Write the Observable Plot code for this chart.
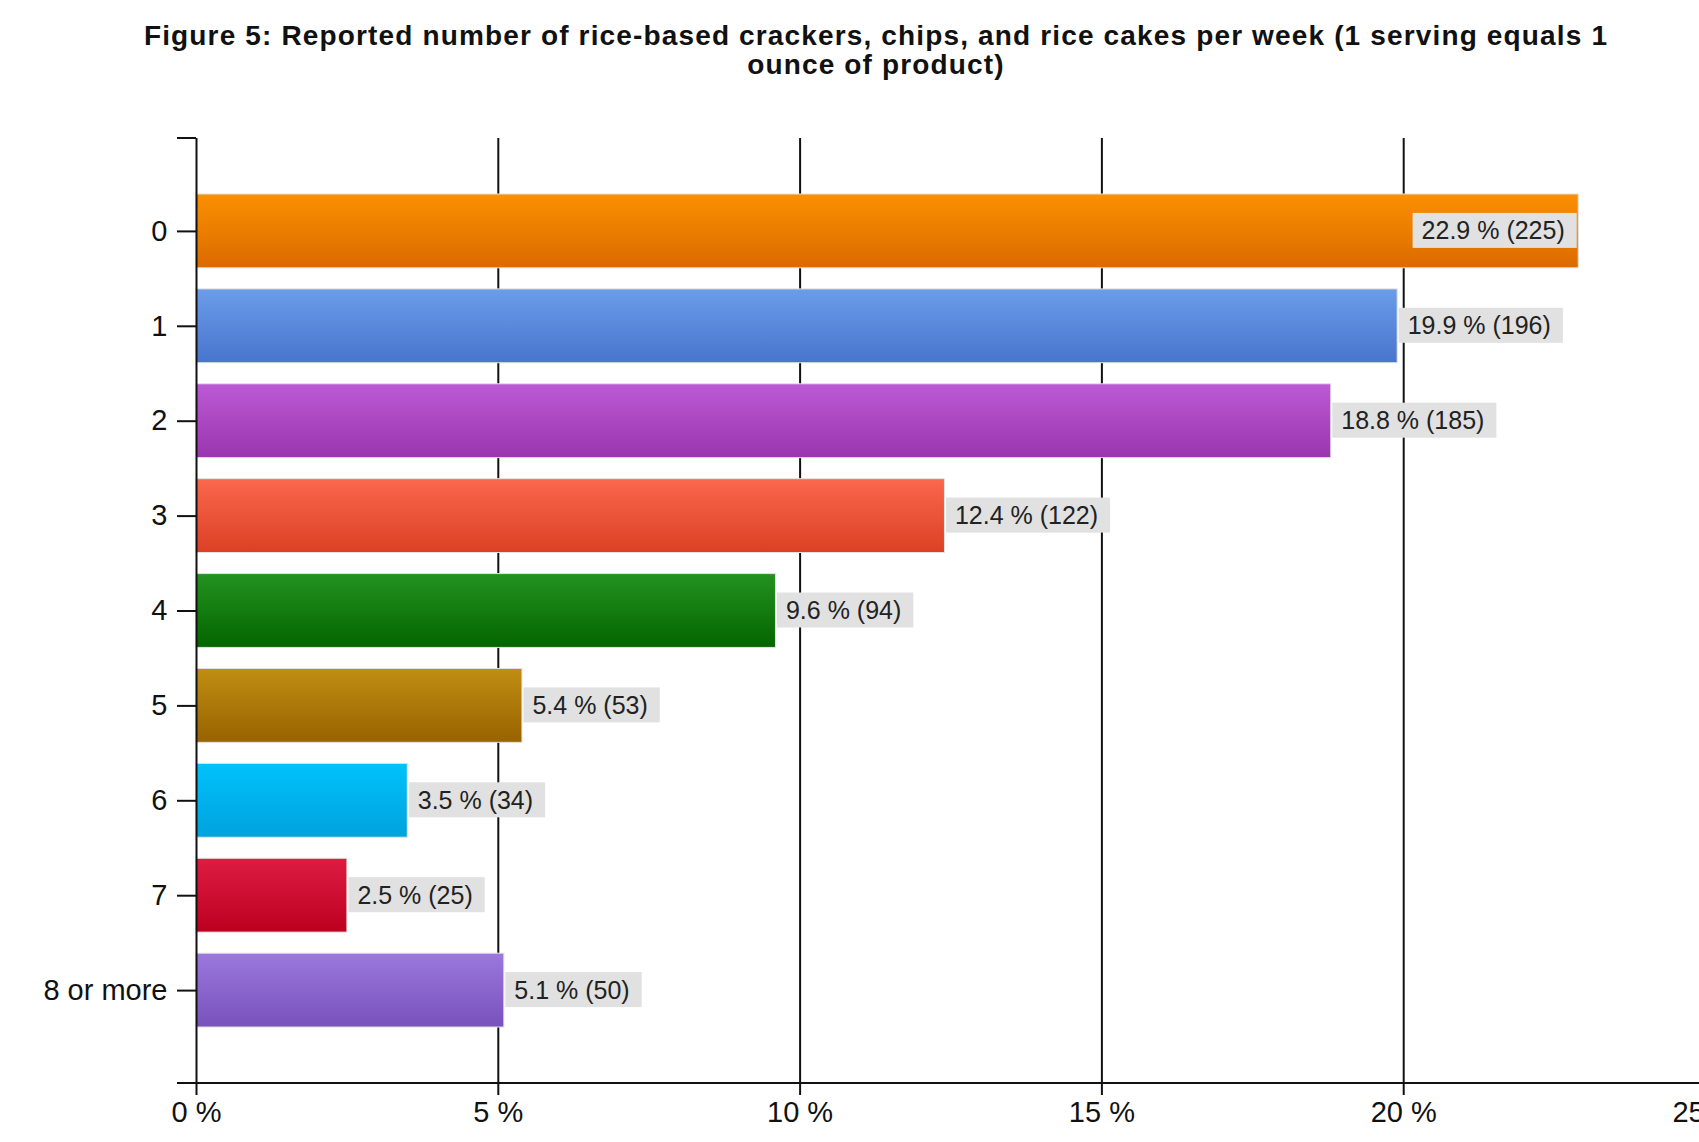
<!DOCTYPE html>
<html><head><meta charset="utf-8">
<script src="https://cdn.jsdelivr.net/npm/d3@7"></script>
<script src="https://cdn.jsdelivr.net/npm/@observablehq/plot@0.6"></script>
<style>
html,body{margin:0;padding:0;background:#fff;overflow:hidden;}
#wrap{position:relative;width:1699px;height:1142px;overflow:hidden;}
#title{position:absolute;left:876px;top:21px;transform:translateX(-50%);white-space:nowrap;text-align:center;font:bold 28px/29px "Liberation Sans",Arial,sans-serif;letter-spacing:1.15px;color:#111;}
#chart{position:absolute;left:0;top:0;width:1760px;}
#chart svg{max-width:none !important;}
</style></head><body>
<div id="wrap">
<div id="title">Figure 5: Reported number of rice-based crackers, chips, and rice cakes per week (1 serving equals 1<br>ounce of product)</div>
<div id="chart"></div>
</div>
<script>
const categories = ["0", "1", "2", "3", "4", "5", "6", "7", "8 or more"];
const percents = [22.9, 19.9, 18.8, 12.4, 9.6, 5.4, 3.5, 2.5, 5.1];
const counts = [225, 196, 185, 122, 94, 53, 34, 25, 50];
const xTicks = [0, 5, 10, 15, 20, 25];
const gridValues = [5, 10, 15, 20];
const gradTop = ["#fa9000", "#6b9ce9", "#bc59d5", "#fb684d", "#23921f", "#c08e12", "#00c2fb", "#de1c42", "#9b78dd"];
const gradBottom = ["#dc6a00", "#4875cd", "#9a36ae", "#da4024", "#046500", "#986200", "#00a2de", "#bc0020", "#7852bb"];

const data = categories.map((c, i) => ({
  cat: c, pct: percents[i], n: counts[i],
  label: `${percents[i].toFixed(1)} % (${counts[i]})`,
  fill: `url(#grad${i})`
}));
const insideLimit = 21;

const decor = (index, scales, values, dims) => {
  const g = d3.create("svg:g");
  const defs = g.append("defs");
  gradTop.forEach((t, i) => {
    const lg = defs.append("linearGradient").attr("id", "grad" + i)
      .attr("x1", 0).attr("y1", 0).attr("x2", 0).attr("y2", 1);
    lg.append("stop").attr("offset", "0%").attr("stop-color", t);
    lg.append("stop").attr("offset", "100%").attr("stop-color", gradBottom[i]);
  });
  const x0 = scales.x(0);
  const yTop = dims.marginTop;
  const yBot = dims.height - dims.marginBottom;
  g.append("line").attr("x1", x0 - 19).attr("x2", x0).attr("y1", yTop).attr("y2", yTop)
    .attr("stroke", "#111").attr("stroke-width", 2);
  g.append("line").attr("x1", x0 - 19).attr("x2", dims.width).attr("y1", yBot).attr("y2", yBot)
    .attr("stroke", "#111").attr("stroke-width", 2);
  return g.node();
};

const chart = Plot.plot({
  width: 1760,
  height: 1142,
  marginLeft: 196,
  marginRight: 55,
  marginTop: 138,
  marginBottom: 59,
  style: {fontFamily: "'Liberation Sans', Arial, sans-serif", fontSize: "29px", color: "#111", background: "transparent", maxWidth: "none"},
  x: {domain: [0, 25]},
  y: {domain: categories, paddingInner: 0.222, paddingOuter: 0.59, round: false},
  color: {type: "identity"},
  marks: [
    Plot.ruleX(gridValues, {stroke: "#111", strokeWidth: 2}),
    decor,
    Plot.barX(data, {x: "pct", y: "cat", fill: "fill", stroke: "#e2e2e2", strokeWidth: 1}),
    Plot.text(data, {filter: d => d.pct < insideLimit, x: "pct", y: "cat", text: "label", textAnchor: "start", dx: 10, fill: "#222", fontSize: 25, ariaDescription: "value-label"}),
    Plot.text(data, {filter: d => d.pct >= insideLimit, x: "pct", y: "cat", text: "label", textAnchor: "end", dx: -14, fill: "#222", fontSize: 25, ariaDescription: "value-label"}),
    Plot.ruleX([0], {stroke: "#111", strokeWidth: 2}),
    Plot.axisX({ticks: xTicks, tickFormat: d => d + " %", tickSize: 12, tickPadding: 6, strokeWidth: 2, label: null, fontSize: 29}),
    Plot.axisY({tickSize: 19, tickPadding: 10, strokeWidth: 2, label: null, fontSize: 29})
  ]
});
document.getElementById("chart").appendChild(chart);

// light grey boxes behind the value labels (same local frame as each text)
d3.select(chart).selectAll('g[aria-description="value-label"] text').each(function () {
  const b = this.getBBox();
  const cy = b.y + b.height / 2;
  const r = document.createElementNS("http://www.w3.org/2000/svg", "rect");
  r.setAttribute("x", b.x - 9);
  r.setAttribute("y", cy - 17.5);
  r.setAttribute("width", b.width + 21);
  r.setAttribute("height", 35);
  r.setAttribute("fill", "#e1e1e1");
  const t = this.getAttribute("transform");
  if (t) r.setAttribute("transform", t);
  this.parentNode.insertBefore(r, this);
});
</script>
</body></html>
